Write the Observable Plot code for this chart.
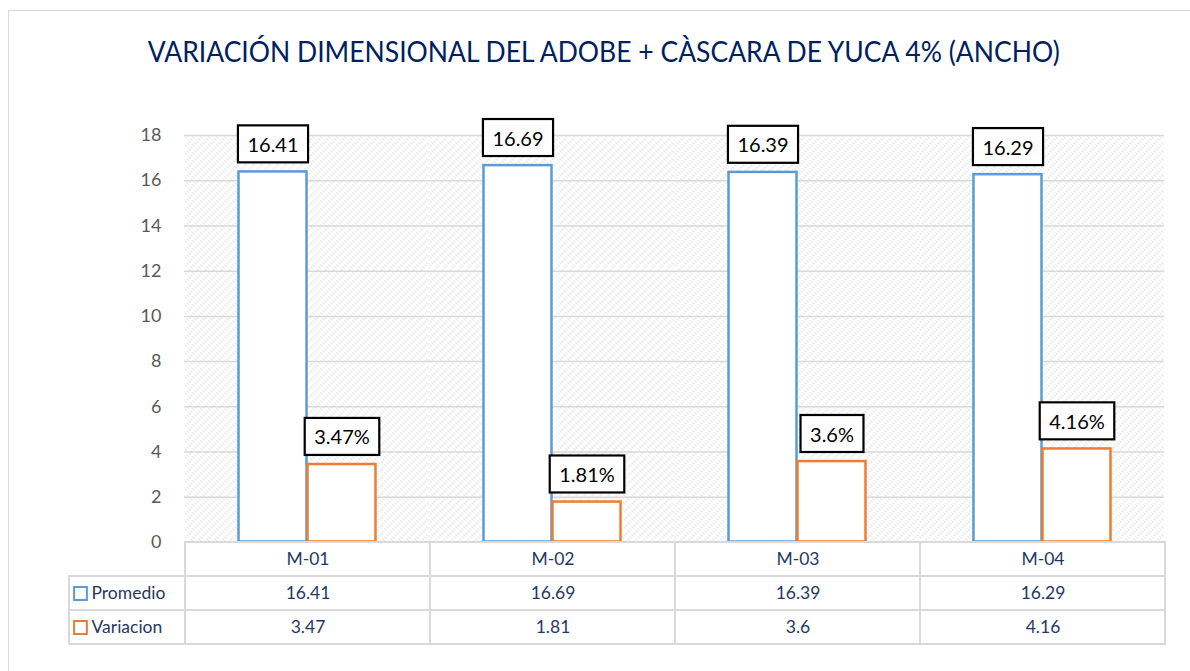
<!DOCTYPE html>
<html>
<head>
<meta charset="utf-8">
<script src="https://cdn.jsdelivr.net/npm/d3@7"></script>
<script src="https://cdn.jsdelivr.net/npm/@observablehq/plot@0.6"></script>
<style>
  html, body { margin: 0; padding: 0; background: #fff; }
  #wrap { position: relative; width: 1190px; height: 671px; overflow: hidden; background: #fff; font-family: Lato, "Open Sans", sans-serif; }
  .abs { position: absolute; }
  #border { left: 8px; top: 10px; width: 1200px; height: 700px; border: 1.5px solid #d9d9d9; box-sizing: border-box; }
  #title { top: 34px; left: 0; width: 1208px; text-align: center; font-size: 28px; color: #002060; white-space: nowrap; line-height: 34px; }
  #title span { display: inline-block; transform-origin: center; }
  .hdr { left: 68px; width: 116px; border: 2px solid #d9d9d9; border-right: none; box-sizing: border-box; }
</style>
</head>
<body>
<div id="wrap">
  <div id="border" class="abs"></div>
  <div id="title" class="abs"><span id="titleText"></span></div>
</div>
<script>
const titleText = "VARIACIÓN DIMENSIONAL DEL ADOBE + CÀSCARA DE YUCA 4% (ANCHO)";
const categories = ["M-01", "M-02", "M-03", "M-04"];
const series = ["Promedio", "Variacion"];
const promedio = [16.41, 16.69, 16.39, 16.29];
const variacion = [3.47, 1.81, 3.6, 4.16];
const promedioLabels = ["16.41", "16.69", "16.39", "16.29"];
const variacionLabels = ["3.47%", "1.81%", "3.6%", "4.16%"];
const variacionTable = ["3.47", "1.81", "3.6", "4.16"];
const yTicks = [0, 2, 4, 6, 8, 10, 12, 14, 16, 18];
const colors = ["#5b9bd5", "#ed7d31"];

const wrap = document.getElementById("wrap");
const tt = document.getElementById("titleText");
tt.textContent = titleText;

// bar data
const bars = [];
categories.forEach((c, i) => {
  bars.push({cat: c, series: "Promedio", value: promedio[i], label: promedioLabels[i]});
  bars.push({cat: c, series: "Variacion", value: variacion[i], label: variacionLabels[i]});
});

const chart = Plot.plot({
  width: 1190,
  height: 562,
  marginTop: 135,
  marginBottom: 20,
  marginLeft: 184,
  marginRight: 25,
  style: {fontFamily: "Lato, 'Open Sans', sans-serif", fontSize: "18px", color: "#595959", background: "transparent", overflow: "visible"},
  fx: {domain: categories, padding: 0, axis: null},
  x: {domain: series, paddingInner: 0, paddingOuter: 0.76, axis: null},
  y: {domain: [0, 18], ticks: yTicks, tickSize: 0, tickPadding: 23, label: null, tickFormat: d => String(d)},
  color: {domain: series, range: colors},
  marks: [
    Plot.frame({fill: "url(#hatch)", stroke: null}),
    Plot.gridY(yTicks, {stroke: "#d9d9d9", strokeOpacity: 1, strokeWidth: 1.5}),
    Plot.barY(bars, {fx: "cat", x: "series", y: "value", fill: "white", stroke: "series", strokeWidth: 2.5, inset: 0.5}),
    Plot.text(bars, {fx: "cat", x: "series", y: "value", text: "label", dy: -26, fontSize: 20, fill: "black", className: "lbl"})
  ]
});
chart.style.position = "absolute";
chart.style.left = "-1px";
chart.style.top = "0px";
wrap.appendChild(chart);

// hatch pattern
const defs = d3.select(chart).insert("defs", ":first-child");
const pat = defs.append("pattern").attr("id", "hatch").attr("patternUnits", "userSpaceOnUse")
  .attr("width", 8).attr("height", 8);
pat.append("rect").attr("width", 8).attr("height", 8).attr("fill", "#ffffff");
for (let k = 0; k < 8; k++) {
  if (k % 4 < 2) pat.append("rect").attr("x", k).attr("y", k).attr("width", 1).attr("height", 1).attr("fill", "#d2d2d2");
  if (k % 4 >= 2) pat.append("rect").attr("x", k).attr("y", (k + 4) % 8).attr("width", 1).attr("height", 1).attr("fill", "#d2d2d2");
}

// boxes behind data labels
d3.select(chart).selectAll("g.lbl text").each(function() {
  const t = this;
  const b = t.getBBox();
  const w = b.width + 19, h = 37;
  const cx = b.x + b.width / 2, cy = b.y + b.height / 2;
  d3.select(t.parentNode).insert("rect", () => t)
    .attr("x", cx - w / 2).attr("y", cy - h / 2)
    .attr("width", w).attr("height", h)
    .attr("fill", "white").attr("stroke", "black").attr("stroke-width", 2.2)
    .attr("transform", t.getAttribute("transform"));
});

// data table
const rows = ["head", "Promedio", "Variacion"];
const tableData = [];
categories.forEach((c, i) => {
  tableData.push({cat: c, row: "head", text: c});
  tableData.push({cat: c, row: "Promedio", text: promedioLabels[i]});
  tableData.push({cat: c, row: "Variacion", text: variacionTable[i]});
});
const legendData = series.map((s, i) => ({row: s, series: s}));

const table = Plot.plot({
  width: 1190,
  height: 110,
  marginTop: 1,
  marginBottom: 7,
  marginLeft: 184,
  marginRight: 25,
  style: {fontFamily: "Lato, 'Open Sans', sans-serif", fontSize: "17px", background: "transparent", overflow: "visible"},
  x: {domain: categories, padding: 0, axis: null},
  y: {domain: rows, padding: 0, axis: null},
  color: {domain: series, range: colors},
  marks: [
    Plot.cell(tableData, {x: "cat", y: "row", fill: "white", stroke: "#d9d9d9", strokeWidth: 2, inset: 0}),
    Plot.text(tableData, {x: "cat", y: "row", text: "text", fill: "#1f3864", fontSize: 17.5}),
    Plot.dot(legendData, {y: "row", frameAnchor: "left", dx: -104, symbol: "square", r: 7.2, stroke: "series", strokeWidth: 2, fill: "white"}),
    Plot.text(legendData, {y: "row", frameAnchor: "left", dx: -93, text: "series", textAnchor: "start", fill: "#1f3864", fontSize: 17.5})
  ]
});
table.style.position = "absolute";
table.style.left = "0px";
table.style.top = "541px";

// header column borders
const hdr1 = document.createElement("div");
hdr1.className = "abs hdr";
hdr1.style.top = "575px"; hdr1.style.height = "36px";
const hdr2 = document.createElement("div");
hdr2.className = "abs hdr";
hdr2.style.top = "609px"; hdr2.style.height = "36px";
wrap.appendChild(hdr1);
wrap.appendChild(hdr2);
wrap.appendChild(table);

// fit title width to reference
const tw = tt.getBoundingClientRect().width;
tt.style.transform = `scaleX(${912 / tw})`;
</script>
</body>
</html>
